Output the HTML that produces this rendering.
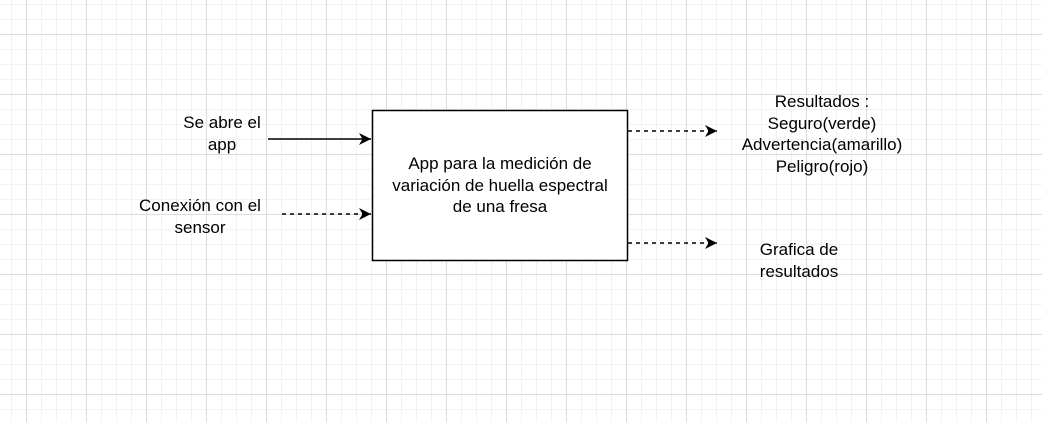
<!DOCTYPE html>
<html><head><style>
body{margin:0;width:1042px;height:422px;overflow:hidden;background:#fff;font-family:"Liberation Sans",sans-serif;}
.bg{position:absolute;left:0;top:0;width:1042px;height:422px;
background-image:
linear-gradient(#dcdcdc 1px,transparent 1px),
linear-gradient(90deg,#dcdcdc 1px,transparent 1px),
linear-gradient(#f2f2f2 1px,transparent 1px),
linear-gradient(90deg,#f2f2f2 1px,transparent 1px);
background-size:60px 60px,60px 60px,15px 15px,15px 15px;
background-position:0 34px,26px 0,0 4px,11px 0;}
.t{position:absolute;font-size:17px;color:#000;text-align:center;line-height:21.5px;white-space:nowrap;}
</style></head><body>
<div class="bg"></div>
<svg width="1042" height="422" style="position:absolute;left:0;top:0">
<defs><marker id="a" markerWidth="14" markerHeight="14" refX="12" refY="6" orient="auto" markerUnits="userSpaceOnUse"><path d="M0,0 L12,6 L0,12 L3.5,6 z" fill="#000"/></marker></defs>
<rect x="372.5" y="110.5" width="255" height="150" fill="#fff" stroke="#000" stroke-width="1.5"/>
<line x1="268" y1="139" x2="371" y2="139" stroke="#000" stroke-width="1.5" marker-end="url(#a)"/>
<line x1="282" y1="214" x2="371" y2="214" stroke="#000" stroke-width="1.5" stroke-dasharray="4,4" marker-end="url(#a)"/>
<line x1="628" y1="131" x2="717" y2="131" stroke="#000" stroke-width="1.5" stroke-dasharray="4,4" marker-end="url(#a)"/>
<line x1="628" y1="243" x2="717" y2="243" stroke="#000" stroke-width="1.5" stroke-dasharray="4,4" marker-end="url(#a)"/>
</svg>
<div class="t" style="left:142px;top:112px;width:160px;">Se abre el<br>app</div>
<div class="t" style="left:120px;top:195px;width:160px;">Conexión con el<br>sensor</div>
<div class="t" style="left:372px;top:153px;width:256px;">App para la medición de<br>variación de huella espectral<br>de una fresa</div>
<div class="t" style="left:722px;top:91px;width:200px;">Resultados :<br>Seguro(verde)<br>Advertencia(amarillo)<br>Peligro(rojo)</div>
<div class="t" style="left:739px;top:239px;width:120px;">Grafica de<br>resultados</div>
</body></html>
